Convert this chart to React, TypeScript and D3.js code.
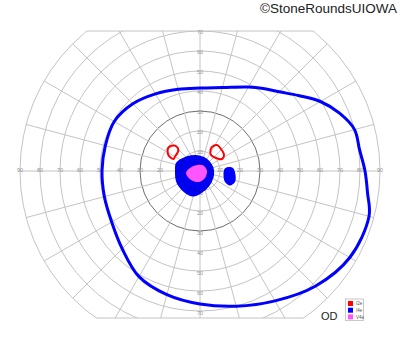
import React from "react";
import * as d3 from "d3";

// ---- data (visual field degrees) ----
const ringDegrees = [10, 20, 30, 40, 50, 60, 70, 80, 90];
const horizontalTickLabels = ["10", "20", "30", "40", "50", "60", "70", "80", "90"];
const verticalTickLabels = ["10", "20", "30", "40", "50", "60", "70"];
const spokeAngles = d3.range(0, 360, 15);

// I4e outer isopter: meridian (deg, 0 = right, counter-clockwise) and eccentricity (deg)
const i4eOuterMeridians = [0, 7.5, 15, 22.5, 30, 37.5, 45, 52.5, 60, 75, 90, 105, 120, 135, 150, 165, 180, 195, 210, 225, 240, 255, 270, 285, 300, 315, 330, 345, 352.5];
const i4eOuterEcc = [82.5, 80.5, 80, 75.5, 69.5, 62, 56, 52, 48.5, 43.2, 41.5, 42.3, 44.5, 47.5, 49.5, 49, 49, 49.5, 51, 55, 61, 64, 66.5, 70, 75, 81.5, 86.5, 87.5, 84.5];

// Central I4e filled area: [horizontal deg, vertical deg]
const i4eCentral: [number, number][] = [
  [-12.5, 0.5], [-11.7, -6], [-7.5, -11], [-3.5, -12.8], [0.8, -11], [5, -7],
  [7, -2], [6.5, 2.2], [3.3, 6.3], [-2.5, 8], [-9.2, 6.3], [-12, 4],
];
// Small I4e island right of centre
const i4eIsland: [number, number][] = [
  [14, 2], [16.5, 1.5], [17.75, -2], [17.5, -5.5], [15, -7.25], [12.5, -5.5], [11.75, -2], [12.25, 1],
];
// V4e filled area
const v4eCentral: [number, number][] = [
  [-7, -1], [-5, 1.5], [-1.5, 3], [2, 2.5], [3.5, 0], [2.5, -3.5], [-0.5, -5.5], [-4.5, -4.5],
];
// I2e islands (outlines)
const i2eLeft: [number, number][] = [
  [-15.8, 11.7], [-12.5, 12.7], [-10.8, 10.5], [-12.5, 7.2], [-13.3, 6], [-15.8, 8],
];
const i2eRight: [number, number][] = [
  [6, 12], [8.5, 13], [10.5, 11], [12, 8], [11, 6], [8, 6.5], [5.5, 8], [5.25, 10.5],
];

const legendLabels = ["I2e", "I4e", "V4e"];
const legendColors = ["#ff0000", "#0000ff", "#ff55ff"];

// ---- layout ----
const W = 400;
const H = 352;
const cx = 200;
const cy = 171;
const r = d3.scaleLinear().domain([0, 90]).range([0, 180]);
const topLimit = 70;
const bottomLimit = 73.5;

const polarXY = (ang: number, ecc: number): [number, number] => {
  const a = (ang * Math.PI) / 180;
  return [cx + r(ecc) * Math.cos(a), cy - r(ecc) * Math.sin(a)];
};
const cartXY = (p: [number, number]): [number, number] => [cx + r(p[0]), cy - r(p[1])];

const closedLine = d3.line<[number, number]>().curve(d3.curveCatmullRomClosed.alpha(0.5));

export default function App() {
  const outerPts = i4eOuterMeridians.map((m, i) => polarXY(m, i4eOuterEcc[i]));
  const centralPath = closedLine(i4eCentral.map(cartXY)) || "";
  const islandPath = closedLine(i4eIsland.map(cartXY)) || "";
  const v4ePath = closedLine(v4eCentral.map(cartXY)) || "";
  const leftRed = closedLine(i2eLeft.map(cartXY)) || "";
  const rightRed = closedLine(i2eRight.map(cartXY)) || "";
  const outerPath = closedLine(outerPts) || "";

  const yTop = cy - r(topLimit);
  const yBot = cy + r(bottomLimit);
  const R = r(90);
  const dxTop = Math.sqrt(R * R - (cy - yTop) ** 2);
  const dxBot = Math.sqrt(R * R - (yBot - cy) ** 2);

  const gridLines = (stroke: string, dark: string, sw: number) => (
    <g fill="none">
      {ringDegrees.map((d) => (
        <circle key={"c" + d} cx={cx} cy={cy} r={r(d)} stroke={d === 30 ? dark : stroke} strokeWidth={sw} />
      ))}
      {spokeAngles.map((a) => {
        const [x2, y2] = polarXY(a, 90);
        return <line key={"s" + a} x1={cx} y1={cy} x2={x2} y2={y2} stroke={stroke} strokeWidth={sw} />;
      })}
    </g>
  );

  return (
    <svg width={W} height={H} style={{ position: "absolute", left: 0, top: 0, background: "#fff" }} fontFamily="'Liberation Sans', Arial, sans-serif">
      <defs>
        <clipPath id="fieldClip">
          <rect x={0} y={yTop} width={W} height={yBot - yTop} />
        </clipPath>
        <clipPath id="blobClip">
          <path d={centralPath} />
        </clipPath>
      </defs>
      <rect x={0} y={0} width={W} height={H} fill="#fff" />
      <g clipPath="url(#fieldClip)">{gridLines("#c4c4c4", "#6e6e6e", 1)}</g>
      <line x1={cx - dxTop} x2={cx + dxTop} y1={yTop} y2={yTop} stroke="#c4c4c4" />
      <line x1={cx - dxBot} x2={cx + dxBot} y1={yBot} y2={yBot} stroke="#c4c4c4" />

      {/* tick labels */}
      <g fontSize={5.5} fill="#939393" textAnchor="middle" dominantBaseline="central">
        {horizontalTickLabels.map((t, i) => (
          <React.Fragment key={"h" + t}>
            <text x={cx - r(ringDegrees[i])} y={cy - 1}>{t}</text>
            <text x={cx + r(ringDegrees[i])} y={cy - 1}>{t}</text>
          </React.Fragment>
        ))}
        {verticalTickLabels.map((t, i) => (
          <React.Fragment key={"v" + t}>
            <text x={cx} y={cy - r(ringDegrees[i]) + 1}>{t}</text>
            <text x={cx} y={cy + r(ringDegrees[i]) + 2}>{t}</text>
          </React.Fragment>
        ))}
      </g>

      {/* isopters */}
      <path d={centralPath} fill="#0000ff" />
      <g clipPath="url(#blobClip)" opacity={0.6}>{gridLines("#000070", "#000070", 0.7)}</g>
      <path d={islandPath} fill="#0000ff" />
      <path d={v4ePath} fill="#ff55ff" />
      <path d={leftRed} fill="none" stroke="#ff0000" strokeWidth={2} />
      <path d={rightRed} fill="none" stroke="#ff0000" strokeWidth={2} />
      <path d={outerPath} fill="none" stroke="#0000ff" strokeWidth={3} />

      {/* labels */}
      <text x={397} y={13} textAnchor="end" fontSize={13.5} fill="#222">©StoneRoundsUIOWA</text>
      <text x={321} y={320} fontSize={11} fill="#222">OD</text>
      <g>
        <rect x={345.5} y={299} width={18} height={21.5} fill="#fff" stroke="#bbb" strokeWidth={0.8} />
        {legendLabels.map((l, i) => (
          <g key={l}>
            <rect x={348} y={301 + i * 6.7} width={5} height={5} fill={legendColors[i]} />
            <text x={356} y={303.7 + i * 6.7} fontSize={4.5} fill="#555" dominantBaseline="central">{l}</text>
          </g>
        ))}
      </g>
    </svg>
  );
}
